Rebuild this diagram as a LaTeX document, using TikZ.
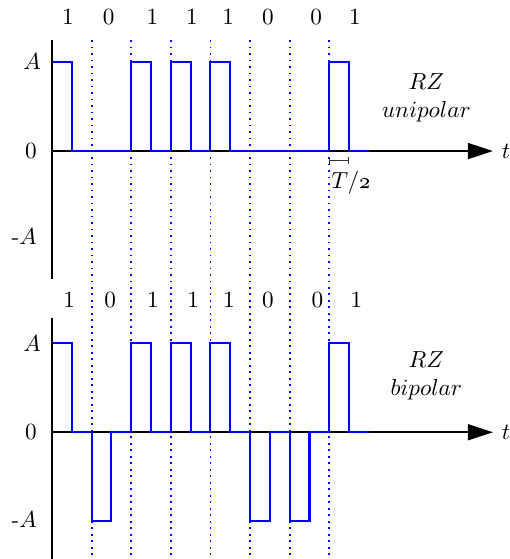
\documentclass[tikz,border=0pt]{standalone}
\usepackage{amsmath}
\usepackage{tikz}
\usetikzlibrary{arrows.meta, positioning, calc}

\begin{document}
\begin{tikzpicture}[
    axis/.style={draw, black, line width=0.9pt},
    timeaxis/.style={axis, -{Triangle[length=3.8mm, width=2.4mm]}},
    signal/.style={draw, blue, line width=0.9pt},
    bitline/.style={draw, blue, dotted, line width=0.8pt},
    bitlabel/.style={inner sep=1pt},
    levellabel/.style={anchor=east, inner sep=1pt},
    codelabel/.style={align=center, inner sep=1pt}
]
\def \T{0.6}
\def \A{1.35}
\useasboundingbox (-0.788,-6.18) rectangle (6.925,2.288);
% Bit boundaries
\foreach \k in {1,...,7}
    \draw[bitline] (\k*\T,1.68) -- (\k*\T,-6.18);
% RZ unipolar
\coordinate (origin1) at (0,0);
\coordinate (ytop1) at (0,1.68);
\coordinate (ybot1) at (0,-1.94);
\coordinate (tend1) at (6.68,0);
\draw[timeaxis] (origin1) -- (tend1) node[right] (t1) {$t$};
\foreach \b [count=\i from 0] in {1,0,1,1,1,0,0,1} {
    \pgfmathsetmacro\lev{\b*\A}
    \draw[signal] (\i*\T,0) -- (\i*\T,\lev) -- (\i*\T+0.5*\T,\lev) -- (\i*\T+0.5*\T,0) -- (\i*\T+\T,0);
}
\draw[axis] (ytop1) -- (ybot1);
\foreach \b/\x [count=\i] in {1/0.24, 0/0.86, 1/1.52, 1/2.12, 1/2.67, 0/3.27, 0/4.0, 1/4.59}
    \node[bitlabel] (bit\i) at (\x,2.03) {\b};
\node[levellabel] (plus1) at (-0.13,\A) {$A$};
\node[levellabel] (zero1) at (-0.19,0) {0};
\node[levellabel] (minus1) at (-0.19,-1.3) {-$A$};
\node[codelabel] (rz1) at (5.67,0.80) {$RZ$\\$unipolar$};
\coordinate (halfa) at (7*\T,-0.14);
\coordinate (halfb) at (7.5*\T,-0.14);
\draw[{Bar[width=3pt]}-{Bar[width=3pt]}, thin, black!80] (halfa) -- (halfb);
\node (half) at (4.53,-0.48) {$T/$\oldstylenums{2}};
% RZ bipolar
\begin{scope}[yshift=-4.26cm]
\coordinate (origin2) at (0,0);
\coordinate (ytop2) at (0,1.73);
\coordinate (ybot2) at (0,-1.92);
\coordinate (tend2) at (6.68,0);
\draw[timeaxis] (origin2) -- (tend2) node[right] (t2) {$t$};
\foreach \b [count=\i from 0] in {1,0,1,1,1,0,0,1} {
    \pgfmathsetmacro\lev{(2*\b-1)*\A}
    \draw[signal] (\i*\T,0) -- (\i*\T,\lev) -- (\i*\T+0.5*\T,\lev) -- (\i*\T+0.5*\T,0) -- (\i*\T+\T,0);
}
\draw[axis] (ytop2) -- (ybot2);
\foreach \b/\x [count=\i] in {1/0.26, 0/0.88, 1/1.53, 1/2.14, 1/2.68, 0/3.27, 0/4.02, 1/4.61}
    \node[bitlabel] (bitb\i) at (\x,2.0) {\b};
\node[levellabel] (plus2) at (-0.13,\A) {$A$};
\node[levellabel] (zero2) at (-0.19,0) {0};
\node[levellabel] (minus2) at (-0.19,-1.32) {-$A$};
\node[codelabel] (rz2) at (5.67,0.85) {$RZ$\\$bipolar$};
\end{scope}
\end{tikzpicture}
\end{document}
